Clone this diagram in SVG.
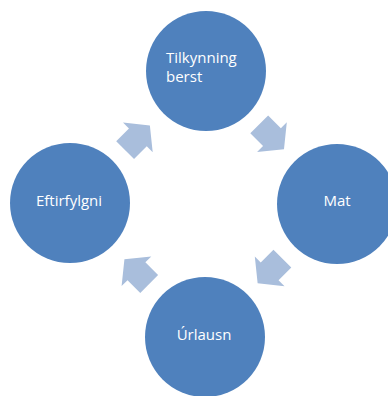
<svg xmlns="http://www.w3.org/2000/svg" width="388" height="396" viewBox="0 0 388 396">
  <defs>
    <style>
      .node circle { fill: #4F81BD; }
      .node text { fill: #FFFFFF; font-family: "Open Sans", "Liberation Sans", sans-serif; font-size: 15px; }
      .arrow { fill: #A9BEDC; }
    </style>
    <path id="arr" d="M -17.5,-12.6 L 0.5,-12.6 L 0.5,-21 L 17.5,0 L 0.5,21 L 0.5,12.6 L -17.5,12.6 Z"/>
  </defs>
  <rect width="388" height="396" fill="#FFFFFF"/>
  <g id="connectors">
    <use href="#arr" class="arrow" transform="translate(137.5,137.8) rotate(-45)"/>
    <use href="#arr" class="arrow" transform="translate(271.6,136.8) rotate(45)"/>
    <use href="#arr" class="arrow" transform="translate(270,271) rotate(135)"/>
    <use href="#arr" class="arrow" transform="translate(136.8,271.6) rotate(-135)"/>
  </g>
  <g id="node-tilkynning" class="node">
    <circle cx="206" cy="71" r="60"/>
    <text x="166" y="63">Tilkynning</text>
    <text x="166" y="82">berst</text>
  </g>
  <g id="node-mat" class="node">
    <circle cx="337" cy="204" r="60"/>
    <text x="337" y="206" text-anchor="middle">Mat</text>
  </g>
  <g id="node-urlausn" class="node">
    <circle cx="205" cy="337" r="60"/>
    <text x="204" y="340" text-anchor="middle">Úrlausn</text>
  </g>
  <g id="node-eftirfylgni" class="node">
    <circle cx="70" cy="203" r="60"/>
    <text x="69" y="206" text-anchor="middle">Eftirfylgni</text>
  </g>
</svg>
